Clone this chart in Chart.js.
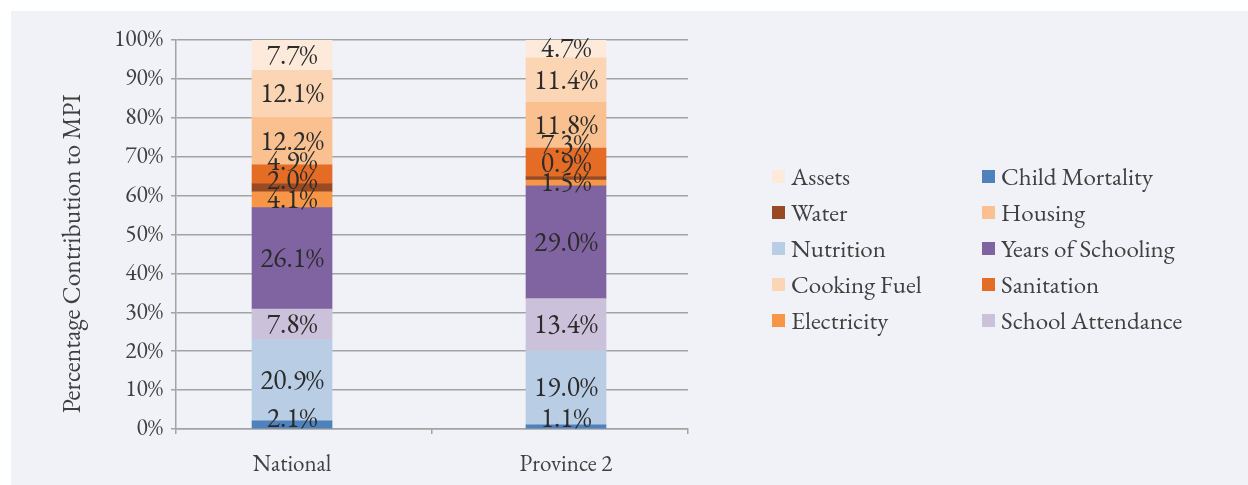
<!DOCTYPE html>
<html>
<head>
<meta charset="utf-8">
<script src="https://cdn.jsdelivr.net/npm/chart.js@4/dist/chart.umd.min.js"></script>
<style>
  body { margin: 0; background: #fff; }
  #panel { position: absolute; left: 11px; top: 11px; width: 1237px; height: 474px; background: #f0f2f7; }
  #chartBox { position: absolute; left: 0; top: 0; width: 1237px; height: 474px; }
  #legend {
    position: absolute; left: 761px; top: 147px;
    display: grid; grid-template-columns: 210px auto; grid-auto-rows: 36px; align-items: center;
    font-family: 'EB Garamond', Garamond, 'Liberation Serif', serif; font-size: 25px; color: #404040;
  }
  #legend .item { display: flex; align-items: center; white-space: nowrap; }
  #legend .sw { width: 13px; height: 13px; margin-right: 6px; }
</style>
</head>
<body>
<div id="panel">
  <div id="chartBox"><canvas id="mpiChart"></canvas></div>
  <div id="legend"></div>
</div>
<script>
// data (stacked bottom -> top)
const categories = ['National', 'Province 2']
const seriesNames = ['Child Mortality', 'Nutrition', 'School Attendance', 'Years of Schooling',
  'Electricity', 'Water', 'Sanitation', 'Housing', 'Cooking Fuel', 'Assets']
const nationalValues = [2.1, 20.9, 7.8, 26.1, 4.1, 2.0, 4.9, 12.2, 12.1, 7.7]
const province2Values = [1.1, 19.0, 13.4, 29.0, 1.5, 0.9, 7.3, 11.8, 11.4, 4.7]
const legendOrder = ['Assets', 'Child Mortality', 'Water', 'Housing', 'Nutrition',
  'Years of Schooling', 'Cooking Fuel', 'Sanitation', 'Electricity', 'School Attendance']

const colors = {
  'Child Mortality': '#4f81bd',
  'Nutrition': '#b9cde5',
  'School Attendance': '#ccc1da',
  'Years of Schooling': '#8064a2',
  'Electricity': '#f79646',
  'Water': '#984a24',
  'Sanitation': '#e46c25',
  'Housing': '#fac090',
  'Cooking Fuel': '#fcd5b5',
  'Assets': '#fdeada'
}

const serif = "'EB Garamond', Garamond, 'Liberation Serif', serif"
const axisGray = '#a3a3a3'
const textColor = '#404040'

Chart.defaults.font.family = serif

// values printed in the middle of each segment, pushed up when too close
const barLabels = {
  id: 'barLabels',
  afterDatasetsDraw(chart) {
    const { ctx, chartArea } = chart
    ctx.save()
    ctx.font = '27.5px ' + serif
    ctx.fillStyle = '#2b2b2b'
    ctx.textAlign = 'center'
    ctx.textBaseline = 'middle'
    categories.forEach((c, i) => {
      let prevY = Infinity
      chart.data.datasets.forEach((ds, d) => {
        const bar = chart.getDatasetMeta(d).data[i]
        let y = Math.min((bar.y + bar.base) / 2 + 1, chartArea.bottom - 9)
        y = Math.min(y, prevY - 19)
        prevY = y
        ctx.fillText(ds.data[i].y.toFixed(1) + '%', bar.x, y)
      })
    })
    ctx.restore()
  }
}

const datasets = seriesNames.map((name, k) => ({
  label: name,
  data: [nationalValues[k], province2Values[k]].map((v, i) => ({ x: i, y: v })),
  backgroundColor: colors[name],
  borderWidth: 0,
  barThickness: 80,
  xAxisID: 'x',
  yAxisID: 'y'
}))

new Chart(document.getElementById('mpiChart'), {
  type: 'bar',
  data: { labels: categories, datasets: datasets },
  options: {
    responsive: true,
    maintainAspectRatio: false,
    animation: false,
    layout: { padding: { left: 43, top: 29, right: 560, bottom: 0 } },
    plugins: {
      legend: { display: false },
      tooltip: { enabled: false }
    },
    scales: {
      y: {
        stacked: true,
        min: 0,
        max: 100,
        ticks: { stepSize: 10, callback: v => v + '%', font: { size: 23.5 }, color: textColor, padding: 8 },
        grid: { color: axisGray, lineWidth: 1.5, tickLength: 5 },
        border: { color: axisGray, width: 1.5 },
        title: {
          display: true,
          text: 'Percentage Contribution to MPI\u2003\u2002',
          font: { size: 25.5 },
          color: textColor,
          padding: { top: 4, bottom: 4 }
        },
        afterFit: s => { s.width = 122 }
      },
      xc: {
        type: 'category',
        labels: categories,
        position: 'bottom',
        offset: true,
        weight: 0,
        grid: { offset: true, drawOnChartArea: false, color: axisGray, lineWidth: 1.5, tickLength: 5 },
        border: { color: axisGray, width: 1.5 },
        ticks: { display: false },
        afterFit: s => { s.height = 5 }
      },
      x: {
        type: 'linear',
        position: 'bottom',
        stacked: true,
        offset: false,
        min: -0.4235,
        max: 1.4453,
        weight: 1,
        grid: { display: false, drawTicks: false, offset: false },
        border: { display: false },
        ticks: {
          autoSkip: false,
          maxRotation: 0,
          font: { size: 23 },
          color: textColor,
          padding: 17,
          callback: v => categories[v] ?? ''
        },
        afterBuildTicks: s => { s.ticks = categories.map((c, i) => ({ value: i })) },
        afterFit: s => { s.height = 51 }
      }
    }
  },
  plugins: [barLabels]
})

// legend in two columns
const legendEl = document.getElementById('legend')
legendOrder.forEach(name => {
  const item = document.createElement('div')
  item.className = 'item'
  item.innerHTML = '<span class="sw" style="background:' + colors[name] + '"></span>' + name
  legendEl.appendChild(item)
})
</script>
</body>
</html>
